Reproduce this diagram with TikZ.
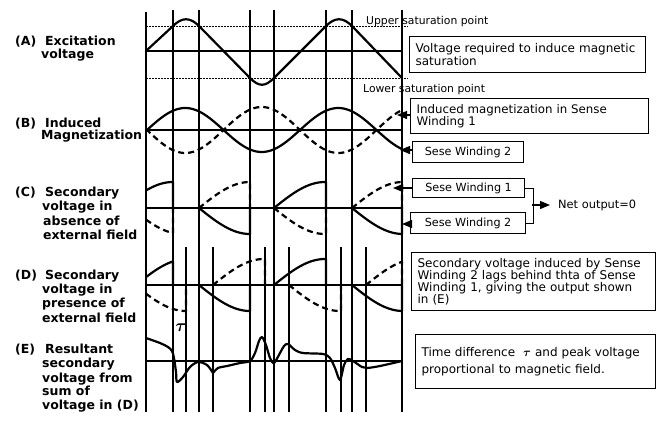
\documentclass[tikz,border=0pt]{standalone}
\usepackage{fontspec}
\setmainfont{DejaVu Sans}
\usetikzlibrary{arrows.meta}
\newcommand\wpulse[6]{%
  \draw[#1] plot[domain=#5:#6, samples=30] (\x, {#2 - #3*26*sin(90*min(1,(\x-#4)/51))}) -- (#6,#2);}
\begin{document}
\begin{tikzpicture}[x=1pt,y=-1pt,
  gridline/.style={line width=1.4pt},
  wave/.style={line width=2.2pt, line join=round},
  dwave/.style={wave, dash pattern=on 6pt off 4pt},
  satline/.style={line width=0.9pt, dash pattern=on 2pt off 1pt},
  axisline/.style={line width=2.1pt},
  lab/.style={font=\fontsize{12.5}{14}\selectfont\bfseries, anchor=base west, inner sep=0pt},
  note/.style={font=\fontsize{10.8}{12}\selectfont, anchor=base west, inner sep=0pt},
  box/.style={draw, line width=1.2pt, anchor=north west, align=left, inner xsep=6pt, inner ysep=0pt},
  sbox/.style={draw, line width=1.2pt, anchor=north west, inner sep=0pt, font=\fontsize{11.2}{12}\selectfont},
  ptr/.style={-{Triangle[length=10pt,width=8pt]}, line width=1.2pt},
]
\useasboundingbox (0,0) rectangle (661,421);

% grid lines
\foreach \x in {173,199,250,274,326,352,402} \draw[gridline] (\x,10) -- (\x,412);
\foreach \x in {186,213,265,289,341,366} \draw[gridline] (\x,247) -- (\x,412);
\draw[line width=2.8pt] (146,12) -- (146,412);

% centre lines
\foreach \y in {51,130,208,285,361} \draw[axisline] (146,\y) -- (402,\y);

% saturation levels
\draw[satline] (146,26) -- (408,26);
\draw[satline] (146,78) -- (408,78);

% (A) excitation
\draw[wave] (146,51) -- (173,26) .. controls (182,17) and (190,17) .. (199,26) -- (250,78)
  .. controls (259,87) and (265,87) .. (274,78) -- (326,26) .. controls (335,17) and (343,17) .. (352,26) -- (402,78);

% (B) magnetization
\draw[wave] plot[domain=146:402, samples=120] (\x, {130-22*sin(2.35294*(\x-147))});
\draw[dwave] plot[domain=146:402, samples=120] (\x, {130+23*sin(2.35294*(\x-147))});

% (C)
\wpulse{wave}{208}{1}{122}{146}{173}
\wpulse{dwave}{208}{-1}{131}{146}{173}
\wpulse{wave}{208}{-1}{199}{199}{250}
\wpulse{dwave}{208}{1}{199}{199}{250}
\wpulse{wave}{208}{1}{274}{274}{326}
\wpulse{dwave}{208}{-1}{274}{274}{326}
\wpulse{wave}{208}{-1}{352}{352}{402}
\wpulse{dwave}{208}{1}{352}{352}{402}

% (D)
\wpulse{wave}{285}{1}{136}{146}{173}
\wpulse{dwave}{285}{-1}{135}{146}{186}
\wpulse{wave}{285}{-1}{199}{199}{250}
\wpulse{dwave}{285}{1}{213}{213}{265}
\wpulse{wave}{285}{1}{274}{274}{326}
\wpulse{dwave}{285}{-1}{289}{289}{341}
\wpulse{wave}{285}{-1}{352}{352}{402}
\wpulse{dwave}{285}{1}{366}{366}{402}

% (E)
\draw[wave, line cap=round] plot[smooth, tension=0.5] coordinates {(146,338) (160,343) (168,347) (172,351) (174,358) (176,372) (177,382) (183,377) (190,367) (198,362) (207,365) (213,373)};
\draw[wave, line cap=round] plot[smooth, tension=0.5] coordinates {(213,373) (218,368) (227,366) (240,363) (250,361) (255,353) (259,341) (262,337) (266,345) (270,358) (274,363) (280,353) (284,346) (288,344) (295,350) (303,353) (323,354) (330,358) (335,368) (340,380) (344,365) (348,359) (353,361) (362,367) (367,368) (380,366) (402,361)};
\node[inner sep=0pt, font=\fontsize{16}{16}\selectfont\boldmath] (tau) at (181,328) {$\tau$};

% left labels
\node[lab] (la0) at (15,45) {(A)};
\node[lab] (la1) at (45,45) {Excitation};
\node[lab] (la2) at (41,58) {voltage};
\node[lab] (lb0) at (15,127) {(B)};
\node[lab] (lb1) at (45,127) {Induced};
\node[lab] (lb2) at (41,139) {Magnetization};
\node[lab] (lc0) at (15,196) {(C)};
\node[lab] (lc1) at (45,196) {Secondary};
\node[lab] (lc2) at (42,210) {voltage in};
\node[lab] (lc3) at (43,225) {absence of};
\node[lab] (lc4) at (43,239) {external field};
\node[lab] (ld0) at (15,279) {(D)};
\node[lab] (ld1) at (45,279) {Secondary};
\node[lab] (ld2) at (42,293) {voltage in};
\node[lab] (ld3) at (42,307) {presence of};
\node[lab] (ld4) at (42,322) {external field};
\node[lab] (le0) at (15,353) {(E)};
\node[lab] (le1) at (45,353) {Resultant};
\node[lab] (le2) at (42,367) {secondary};
\node[lab] (le3) at (42,382) {voltage from};
\node[lab] (le4) at (42,395) {sum of};
\node[lab] (le5) at (42,409) {voltage in (D)};

% saturation notes
\node[note] (ups) at (366,24) {Upper saturation point};
\node[note] (los) at (363,92) {Lower saturation point};

% boxes
\node[box, text width=224pt, minimum height=36pt, font=\fontsize{12}{12.5}\selectfont] (b1) at (409,36)
  {Voltage required to induce magnetic\\saturation};
\node[box, text width=226pt, minimum height=35pt, font=\fontsize{11.8}{11.5}\selectfont] (b2) at (410,98)
  {Induced magnetization in Sense\\Winding 1};
\node[sbox, minimum width=111pt, minimum height=21pt] (b3) at (412,141) {Sese Winding 2};
\node[sbox, minimum width=112pt, minimum height=19pt] (b4) at (412,178) {Sese Winding 1};
\node[sbox, minimum width=115pt, minimum height=21pt] (b5) at (410,212) {Sese Winding 2};
\node[box, text width=232pt, minimum height=58pt, font=\fontsize{12}{12}\selectfont] (b6) at (411,252)
  {Secondary voltage induced by Sense\\Winding 2 lags behind thta of Sense\\Winding 1, giving the output shown\\in (E)};
\node[box, text width=228pt, minimum height=54pt, font=\fontsize{12}{17}\selectfont] (b7) at (415,334)
  {Time difference~~{\boldmath$\tau$} and peak voltage\\proportional to magnetic field.};

% pointers
\coordinate (t2) at (397,115);
\coordinate (t3) at (400,150);
\coordinate (t4) at (393,188);
\coordinate (t5) at (402,224);
\draw[ptr] (b2.west |- t2) -- (t2);
\draw[ptr] (b3.west |- t3) -- (t3);
\draw[ptr] (b4.west |- t4) -- (t4);
\draw[ptr] (b5.west |- t5) -- (t5);

% bracket and net output
\draw[line width=1.2pt] (b4.east) -- ++(8,0) |- (b5.east);
\coordinate (brk) at (532,205);
\node[note, font=\fontsize{11.4}{12}\selectfont, anchor=west] (net) at (558,205) {Net output=0};
\draw[ptr] (brk) -- ([xshift=-8pt]net.west);
\end{tikzpicture}
\end{document}
